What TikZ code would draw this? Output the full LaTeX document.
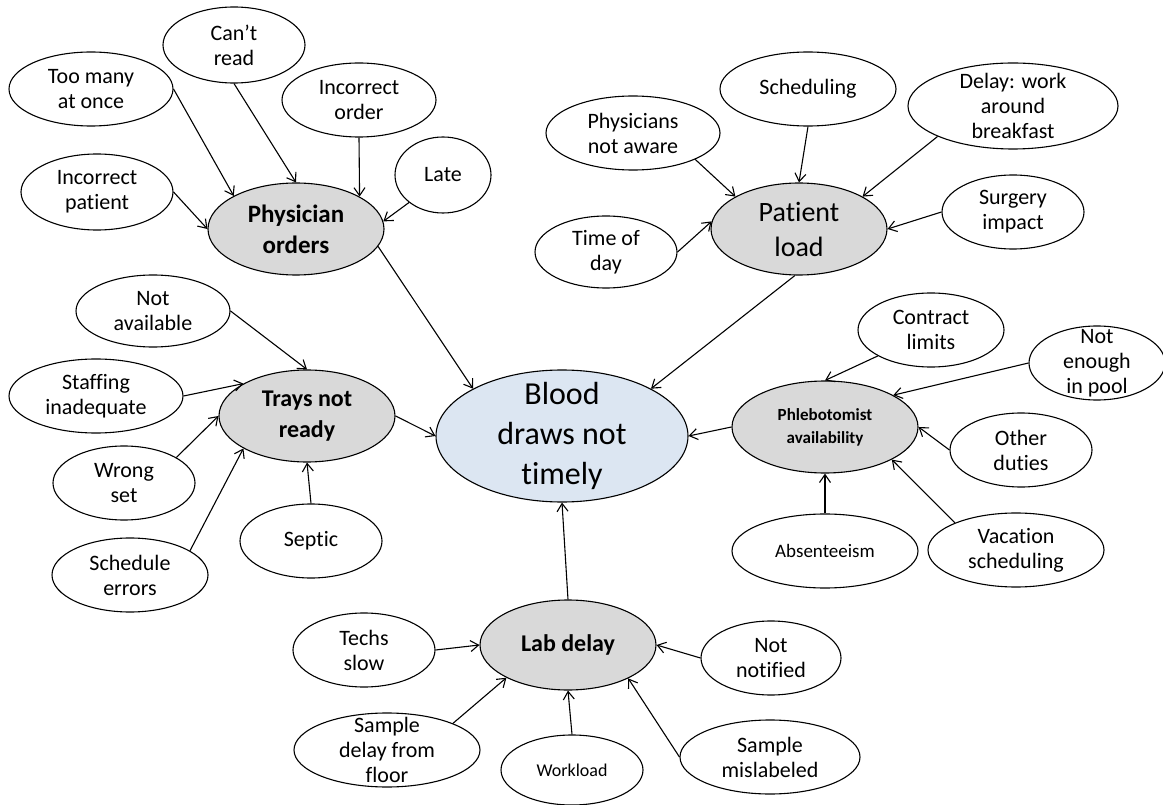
\documentclass[tikz,border=0pt]{standalone}
\usepackage{fontspec}
\setmainfont{Carlito}[Ligatures=NoCommon]
\usetikzlibrary{shapes.geometric,arrows.meta}
\definecolor{causegray}{HTML}{D9D9D9}
\definecolor{effectblue}{HTML}{DCE6F2}

\begin{document}
\begin{tikzpicture}[x=1pt, y=-1pt, line width=1.1pt, >={Straight Barb[length=8pt,width=11pt]},
    box/.style 2 args = {draw, ellipse, inner sep=-15pt, minimum width=#1pt, minimum height=#2pt, align=center},
    leaf/.style = {fill=white, font=\fontsize{22}{25}\selectfont},
    cause/.style = {fill=causegray, font=\bfseries\fontsize{25}{31}\selectfont},
    effect/.style = {fill=effectblue, font=\fontsize{32}{40}\selectfont}]
    \useasboundingbox (0,0) rectangle (1163,805);

    % effect and main causes
    \node[box={252}{132}, effect] (blood) at (562,436) {Blood\\draws not\\timely};
    \node[box={176}{92}, cause] (phys) at (296,229) {Physician\\orders};
    \node[box={176}{92}, cause, font=\fontsize{28}{35}\selectfont] (pat) at (799,229) {Patient\\load};
    \node[box={176}{92}, cause, font=\bfseries\fontsize{24}{31}\selectfont] (trays) at (307,416) {Trays not\\ready};
    \node[box={186}{92}, cause, font=\bfseries\fontsize{17}{23}\selectfont] (phleb) at (825,427) {Phlebotomist\\availability};
    \node[box={176}{90}, cause, font=\bfseries\fontsize{24}{31}\selectfont] (lab) at (568,645) {Lab delay};

    % physician orders
    \node[box={164}{74}, leaf] (many) at (91,89) {Too many\\at once};
    \node[box={142}{76}, leaf] (read) at (234,45) {Can’t\\read};
    \node[box={154}{74}, leaf] (order) at (359,100) {Incorrect\\order};
    \node[box={96}{76}, leaf] (late) at (443,175) {Late};
    \node[box={152}{76}, leaf] (ipat) at (97,192) {Incorrect\\patient};

    % patient load
    \node[box={174}{74}, leaf] (aware) at (633,133) {Physicians\\not aware};
    \node[box={176}{74}, leaf] (sched) at (808,89) {Scheduling};
    \node[box={210}{86}, leaf] (bfast) at (1013,106) {Delay: work\\around\\breakfast};
    \node[box={142}{74}, leaf] (surg) at (1013,212) {Surgery\\impact};
    \node[box={142}{72}, leaf] (tod) at (606,252) {Time of\\day};

    % trays
    \node[box={154}{72}, leaf] (navail) at (153,311) {Not\\available};
    \node[box={174}{74}, leaf] (staff) at (96,396) {Staffing\\inadequate};
    \node[box={142}{74}, leaf] (wrong) at (124,483) {Wrong\\set};
    \node[box={156}{74}, leaf] (serr) at (130,575) {Schedule\\errors};
    \node[box={142}{74}, leaf] (septic) at (311,541) {Septic};

    % phlebotomist
    \node[box={146}{74}, leaf] (contr) at (931,330) {Contract\\limits};
    \node[box={136}{74}, leaf] (pool) at (1097,363) {Not\\enough\\in pool};
    \node[box={142}{74}, leaf] (other) at (1021,450) {Other\\duties};
    \node[box={186}{74}, leaf, font=\fontsize{19}{23}\selectfont] (abs) at (825,551) {Absenteeism};
    \node[box={176}{74}, leaf] (vac) at (1016,550) {Vacation\\scheduling};

    % lab
    \node[box={142}{74}, leaf] (techs) at (364,650) {Techs\\slow};
    \node[box={186}{74}, leaf] (sdelay) at (387,750) {Sample\\delay from\\floor};
    \node[box={142}{70}, leaf, font=\fontsize{18}{22}\selectfont] (work) at (572,770) {Workload};
    \node[box={140}{74}, leaf] (notif) at (771,658) {Not\\notified};
    \node[box={180}{74}, leaf] (mislab) at (770,757) {Sample\\mislabeled};

    \draw[->] (many.0) -- (phys.152);
    \draw[->] (read.south) -- (phys.north);
    \draw[->] (order.south) -- (phys.27);
    \draw[->] (late.219) -- (phys.5);
    \draw[->] (ipat.east) -- (phys.west);
    \draw[->] (phys.-12) -- (blood.152);

    \draw[->] (aware.-23) -- (pat.153);
    \draw[->] (sched.south) -- (pat.north);
    \draw[->] (bfast.202) -- (pat.27);
    \draw[->] (surg.west) -- (pat.east);
    \draw[->] (tod.east) -- (pat.175);
    \draw[->] (pat.-95) -- (blood.28);

    \draw[->] (navail.east) -- (trays.north);
    \draw[->] (staff.east) -- (trays.153);
    \draw[->] (wrong.26) -- (trays.west);
    \draw[->] (serr.22) -- (trays.207);
    \draw[->] (septic.north) -- (trays.south);
    \draw[->] (trays.east) -- (blood.west);

    \draw[->] (contr.206) -- (phleb.north);
    \draw[->] (pool.west) -- (phleb.25);
    \draw[->] (other.west) -- (phleb.east);
    \draw[->] (vac.156) -- (phleb.-26);
    \draw[->] (abs.north) -- (phleb.south);
    \draw[->] (phleb.west) -- (blood.east);

    \draw[->] (techs.east) -- (lab.west);
    \draw[->] (sdelay.22) -- (lab.208);
    \draw[->] (work.north) -- (lab.south);
    \draw[->] (mislab.west) -- (lab.-29);
    \draw[->] (notif.west) -- (lab.east);
    \draw[->] (lab.north) -- (blood.south);
\end{tikzpicture}
\end{document}
